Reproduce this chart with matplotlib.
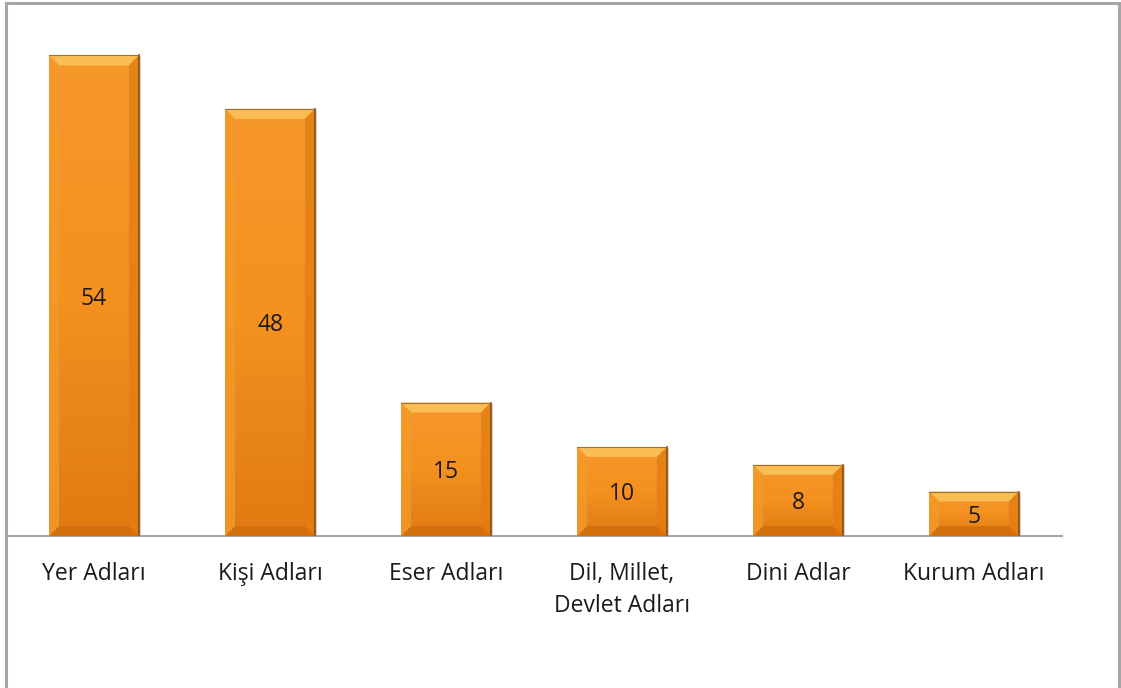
import numpy as np
import matplotlib
matplotlib.use("Agg")
import matplotlib.pyplot as plt
from matplotlib.patches import Polygon, Rectangle

categories = ["Yer Adları", "Kişi Adları", "Eser Adları",
              "Dil, Millet,\nDevlet Adları", "Dini Adlar", "Kurum Adları"]
counts = [54, 48, 15, 10, 8, 5]

plt.rcParams["font.family"] = ["Open Sans", "DejaVu Sans"]

W, H = 1121, 688
fig = plt.figure(figsize=(W / 100, H / 100), dpi=100)
# outer chart border
fig.patches.append(Rectangle((6 / W, -0.01), (1119 - 6) / W, 1.01 - 3 / H,
                             transform=fig.transFigure, fill=False,
                             edgecolor="#a6a6a6", lw=2.2))

ax = fig.add_axes([6 / W, (H - 536) / H, (1062 - 6) / W, 534 / H])
x = np.arange(len(categories))
bars = ax.bar(x, counts, width=0.51, color="#f39020", edgecolor="none",
              zorder=2)
ax.set_xlim(-0.5, len(categories) - 0.5)
ax.set_ylim(0, 60)

# bevel look: gradient body + light top edge, darker sides/bottom
px_x = (1062 - 6) / len(categories)      # pixels per x unit
px_y = 534 / 60                         # pixels per y unit
bx, by = 10 / px_x, 10 / px_y
grad = np.linspace(0, 1, 256).reshape(-1, 1)
cmap = matplotlib.colors.LinearSegmentedColormap.from_list(
    "bar", ["#e07a12", "#f4911f", "#f7982a"])
for b in bars:
    x0, y0 = b.get_x(), b.get_y()
    w, h = b.get_width(), b.get_height()
    x1, y1 = x0 + w, y0 + h
    # drop shadow
    ax.add_patch(Rectangle((x0 + 2 / px_x, y0 - 1 / px_y), w, h,
                           color="#b0b0b0", alpha=0.5, zorder=1, lw=0))
    im = ax.imshow(grad, extent=(x0, x1, y0, y1), cmap=cmap, aspect="auto",
                   origin="lower", zorder=2.5)
    im.set_clip_path(b)
    bh = min(by, h / 2)
    ax.add_patch(Polygon([(x0, y1), (x1, y1), (x1 - bx, y1 - bh),
                          (x0 + bx, y1 - bh)], color="#fbbe55", lw=0,
                         zorder=3))
    ax.add_patch(Polygon([(x0, y0), (x1, y0), (x1 - bx, y0 + bh),
                          (x0 + bx, y0 + bh)], color="#d36f0c", lw=0,
                         zorder=3))
    ax.add_patch(Polygon([(x0, y0), (x0, y1), (x0 + bx, y1 - bh),
                          (x0 + bx, y0 + bh)], color="#f5992a", lw=0,
                         alpha=0.8, zorder=3))
    ax.add_patch(Polygon([(x1, y0), (x1, y1), (x1 - bx, y1 - bh),
                          (x1 - bx, y0 + bh)], color="#e07e14", lw=0,
                         alpha=0.8, zorder=3))
    ax.plot([x1, x1], [y0, y1], color="#8a4a08", lw=1.2, zorder=3.2)
    ax.plot([x0, x1], [y1, y1], color="#a07030", lw=0.8, zorder=3.2)
    ax.text(x0 + w / 2, y0 + h / 2, str(int(h)), ha="center",
            va="center_baseline", fontsize=16.5, color="#1a1a1a", zorder=4)

for s in ["top", "right", "left"]:
    ax.spines[s].set_visible(False)
ax.spines["bottom"].set_color("#a6a6a6")
ax.spines["bottom"].set_linewidth(1.5)
ax.set_yticks([])
ax.set_xticks(x)
ax.set_xticklabels(categories, fontsize=16.5, color="#1a1a1a",
                   linespacing=1.45)
ax.tick_params(axis="x", length=0, pad=19)
ax.patch.set_alpha(0)

fig.savefig("out.png", dpi=100)
